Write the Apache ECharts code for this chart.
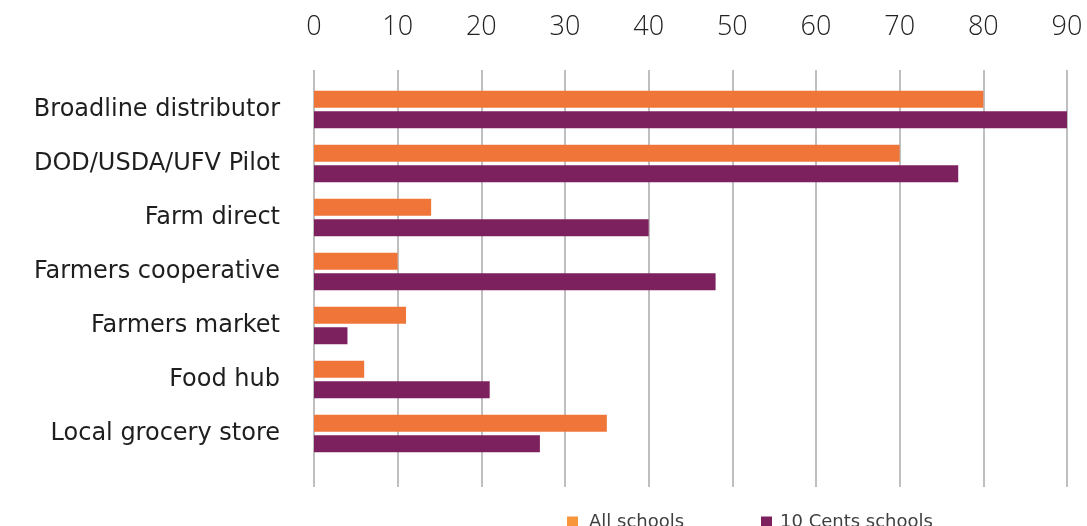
<!DOCTYPE html>
<html><head><meta charset="utf-8">
<script src="https://cdn.jsdelivr.net/npm/echarts@6/dist/echarts.min.js"></script>
<style>html,body{margin:0;padding:0;background:#fff}#c{width:1087px;height:526px}</style>
</head><body><div id="c"></div>
<script>
const categories = ["Broadline distributor","DOD/USDA/UFV Pilot","Farm direct","Farmers cooperative","Farmers market","Food hub","Local grocery store"];
const allSchools = [80,70,14,10,11,6,35];
const tenCentsSchools = [90,77,40,48,4,21,27];
const xTicks = [0,10,20,30,40,50,60,70,80,90];

const FONT = "'Open Sans', sans-serif";
const WIDE = "'DejaVu Sans', sans-serif";
const chart = echarts.init(document.getElementById('c'));
chart.setOption({
  animation:false,
  grid:[
    {left:314,right:20,top:82.5,height:378},
    {left:314,right:20,top:70,bottom:39}
  ],
  xAxis:[
    {gridIndex:0,type:'value',min:xTicks[0],max:xTicks[xTicks.length-1],interval:10,show:false},
    {gridIndex:1,type:'value',position:'top',min:xTicks[0],max:xTicks[xTicks.length-1],interval:10,
     axisLine:{show:false},axisTick:{show:false},
     axisLabel:{fontFamily:FONT,fontSize:27,fontWeight:300,color:'#222',margin:29},
     splitLine:{show:true,lineStyle:{color:'#AAAAAA',width:1.5}}}
  ],
  yAxis:[
    {gridIndex:0,type:'category',data:categories,inverse:true,
     axisLine:{show:false},axisTick:{show:false},
     axisLabel:{fontFamily:WIDE,fontSize:24,color:'#1e1e1e',margin:34}},
    {gridIndex:1,type:'value',show:false,min:0,max:1}
  ],
  legend:[
    {left:567,top:513,padding:0,itemWidth:11,itemHeight:11,icon:'rect',
     textStyle:{fontFamily:WIDE,fontSize:18,color:'#404040',padding:[0,0,0,6]},
     data:[{name:'All schools',itemStyle:{color:'#F7963A'}}]},
    {left:761,top:513,padding:0,itemWidth:11,itemHeight:11,icon:'rect',
     textStyle:{fontFamily:WIDE,fontSize:18,color:'#404040',padding:[0,0,0,3]},
     data:[{name:'10 Cents schools',itemStyle:{color:'#7D215E'}}]}
  ],
  series:[
    {name:'All schools',type:'bar',xAxisIndex:0,yAxisIndex:0,data:allSchools,barWidth:17,barGap:'20%',
     itemStyle:{color:'#F07539'}},
    {name:'10 Cents schools',type:'bar',xAxisIndex:0,yAxisIndex:0,data:tenCentsSchools,barWidth:17,barGap:'20%',
     itemStyle:{color:'#7D215E'}}
  ]
});
</script></body></html>
